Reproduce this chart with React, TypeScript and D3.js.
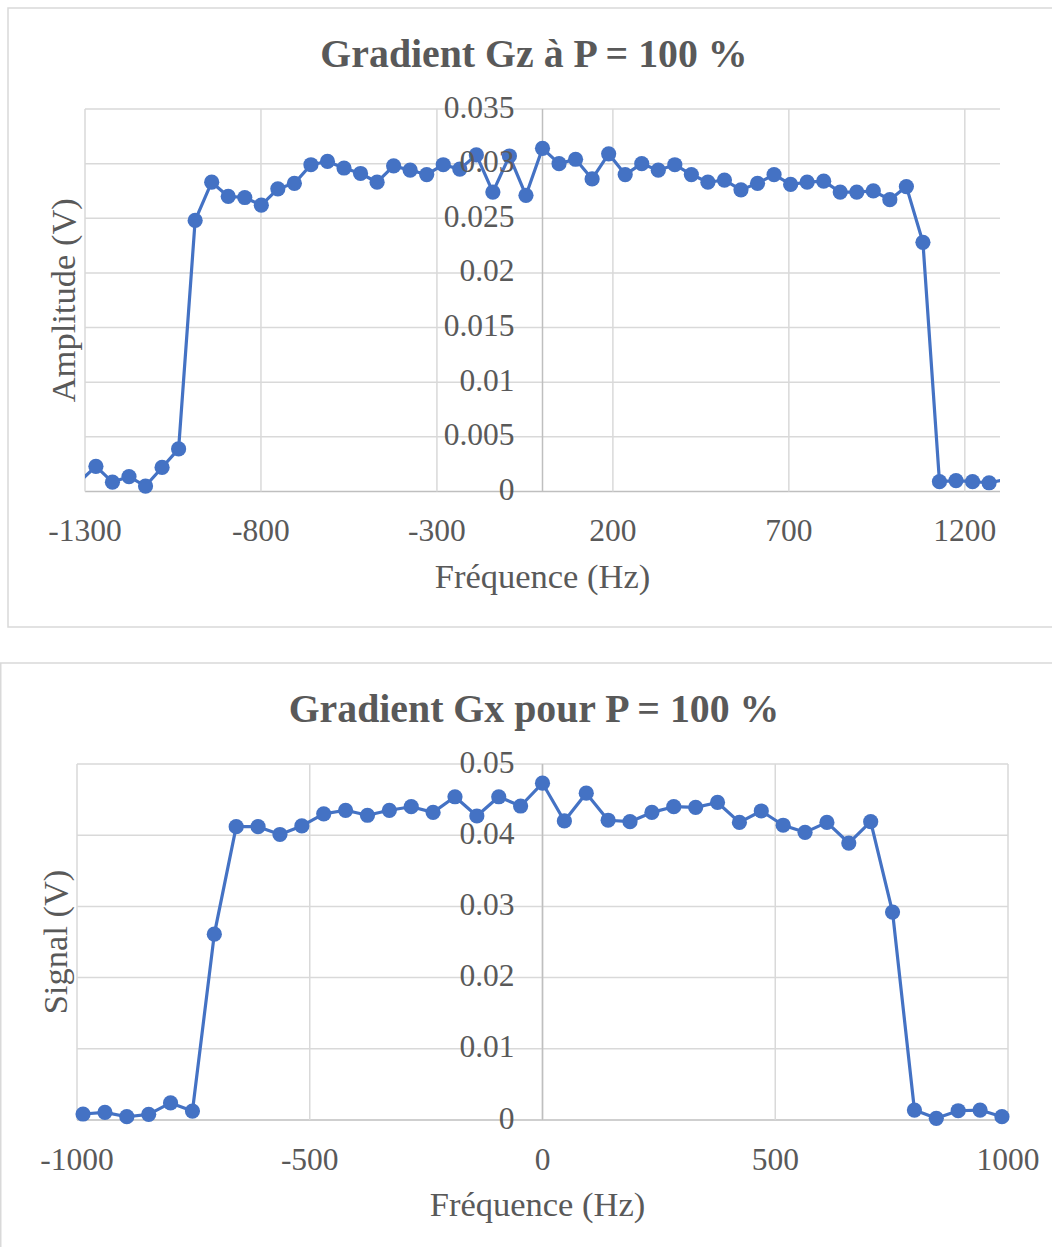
import { useEffect, useRef } from 'react';
import * as d3 from 'd3';

// Gz sweep, P = 100 %
const GZ_FREQ = [
  -1316, -1269, -1222, -1175, -1128, -1081, -1034, -987, -940, -893, -846, -799, -752, -705, -658,
  -611, -564, -517, -470, -423, -376, -329, -282, -235, -188, -141, -94, -47, 0, 47, 94, 141, 188,
  235, 282, 329, 376, 423, 470, 517, 564, 611, 658, 705, 752, 799, 846, 893, 940, 987, 1034, 1081,
  1128, 1175, 1222, 1269, 1316,
];
const GZ_AMP = [
  0.0009, 0.0023, 0.00085, 0.00137, 0.0005, 0.0022, 0.0039, 0.0248, 0.0283, 0.027, 0.0269, 0.0262,
  0.0277, 0.0282, 0.0299, 0.0302, 0.0296, 0.0291, 0.0283, 0.0298, 0.0294, 0.029, 0.0299, 0.0295,
  0.0308, 0.0274, 0.0307, 0.0271, 0.0314, 0.03, 0.0304, 0.0286, 0.0309, 0.029, 0.03, 0.0294, 0.0299,
  0.029, 0.0283, 0.0285, 0.0276, 0.0282, 0.029, 0.0281, 0.0283, 0.0284, 0.0274, 0.0274, 0.0275,
  0.0267, 0.0279, 0.0228, 0.0009, 0.001, 0.0009, 0.0008, 0.0011,
];
const GZ_X_TICKS = [-1300, -800, -300, 200, 700, 1200];
const GZ_Y_TICKS = [0, 0.005, 0.01, 0.015, 0.02, 0.025, 0.03, 0.035];

// Gx sweep, P = 100 %
const GX_FREQ = [
  -987, -940, -893, -846, -799, -752, -705, -658, -611, -564, -517, -470, -423, -376, -329, -282,
  -235, -188, -141, -94, -47, 0, 47, 94, 141, 188, 235, 282, 329, 376, 423, 470, 517, 564, 611, 658,
  705, 752, 799, 846, 893, 940, 987,
];
const GX_SIGNAL = [
  0.00084, 0.00108, 0.00046, 0.0008, 0.0024, 0.00126, 0.0261, 0.0412, 0.0412, 0.0401, 0.0413, 0.043,
  0.0435, 0.0428, 0.0435, 0.044, 0.0432, 0.0454, 0.0427, 0.0454, 0.0441, 0.0473, 0.042, 0.0459,
  0.0421, 0.0419, 0.0432, 0.044, 0.0439, 0.0446, 0.0418, 0.0434, 0.0414, 0.0404, 0.0418, 0.0389,
  0.0419, 0.0292, 0.0014, 0.00024, 0.0013, 0.0014, 0.00046,
];
const GX_X_TICKS = [-1000, -500, 0, 500, 1000];
const GX_Y_TICKS = [0, 0.01, 0.02, 0.03, 0.04, 0.05];

const TEXT = '#595959';
const GRID = '#d9d9d9';
const AXIS = '#bfbfbf';
const BLUE = '#4472c4';
const FONT = '"Liberation Serif", "Times New Roman", serif';

interface ChartCfg {
  id: string;
  title: string;
  yLabel: string;
  freq: number[];
  values: number[];
  xTicks: number[];
  yTicks: number[];
  xDomain: [number, number];
  yDomain: [number, number];
  frame: { x: number; y: number; w: number; h: number };
  plot: { left: number; right: number; top: number; bottom: number };
  yLabelX: number;
  xLabelDx: number;
}

function drawChart(svg: d3.Selection<SVGSVGElement, unknown, null, undefined>, c: ChartCfg) {
  const { plot } = c;
  const x = d3.scaleLinear().domain(c.xDomain).range([plot.left, plot.right]);
  const y = d3.scaleLinear().domain(c.yDomain).range([plot.bottom, plot.top]);
  const g = svg.append('g');

  // frame
  g.append('rect')
    .attr('x', c.frame.x).attr('y', c.frame.y).attr('width', c.frame.w).attr('height', c.frame.h)
    .attr('fill', '#fff').attr('stroke', GRID).attr('stroke-width', 1.5);

  // grid
  c.yTicks.forEach(t => {
    g.append('line')
      .attr('x1', plot.left).attr('x2', plot.right).attr('y1', y(t)).attr('y2', y(t))
      .attr('stroke', t === 0 ? AXIS : GRID).attr('stroke-width', 1.5);
  });
  c.xTicks.forEach(t => {
    g.append('line')
      .attr('x1', x(t)).attr('x2', x(t)).attr('y1', plot.top).attr('y2', plot.bottom)
      .attr('stroke', GRID).attr('stroke-width', 1.5);
  });
  // vertical axis at 0 Hz
  g.append('line')
    .attr('x1', x(0)).attr('x2', x(0)).attr('y1', plot.top).attr('y2', plot.bottom)
    .attr('stroke', AXIS).attr('stroke-width', 1.5);

  // series
  const clipId = `clip-${c.id}`;
  svg.append('defs').append('clipPath').attr('id', clipId)
    .append('rect')
    .attr('x', plot.left).attr('y', plot.top - 30)
    .attr('width', plot.right - plot.left).attr('height', plot.bottom - plot.top + 60);

  const pts = c.freq.map((f, i) => [f, c.values[i]] as [number, number]);
  const line = d3.line<[number, number]>().x(d => x(d[0])).y(d => y(d[1]));
  g.append('path')
    .attr('d', line(pts))
    .attr('fill', 'none').attr('stroke', BLUE).attr('stroke-width', 3.2)
    .attr('stroke-linejoin', 'round')
    .attr('clip-path', `url(#${clipId})`);

  g.selectAll('circle.pt')
    .data(pts.filter(d => d[0] >= c.xDomain[0] && d[0] <= c.xDomain[1]))
    .join('circle')
    .attr('class', 'pt')
    .attr('cx', d => x(d[0])).attr('cy', d => y(d[1]))
    .attr('r', 7.6).attr('fill', BLUE);

  // y tick labels next to the 0 Hz axis
  c.yTicks.forEach(t => {
    g.append('text')
      .attr('x', x(0) - 28).attr('y', y(t) + 8.5)
      .attr('text-anchor', 'end')
      .attr('font-family', FONT).attr('font-size', 31.5).attr('fill', TEXT)
      .text(String(t));
  });

  // x tick labels
  c.xTicks.forEach(t => {
    g.append('text')
      .attr('x', x(t)).attr('y', plot.bottom + 49.5)
      .attr('text-anchor', 'middle')
      .attr('font-family', FONT).attr('font-size', 31.5).attr('fill', TEXT)
      .text(String(t));
  });

  // titles
  g.append('text')
    .attr('x', 534).attr('y', c.frame.y + 58.7)
    .attr('text-anchor', 'middle')
    .attr('font-family', FONT).attr('font-size', 39.8).attr('font-weight', 'bold').attr('fill', TEXT)
    .text(c.title);

  g.append('text')
    .attr('x', (plot.left + plot.right) / 2 + c.xLabelDx).attr('y', plot.bottom + 96)
    .attr('text-anchor', 'middle')
    .attr('font-family', FONT).attr('font-size', 34.5).attr('fill', TEXT)
    .text('Fréquence (Hz)');

  g.append('text')
    .attr('transform', `translate(${c.yLabelX},${(plot.top + plot.bottom) / 2}) rotate(-90)`)
    .attr('text-anchor', 'middle')
    .attr('font-family', FONT).attr('font-size', 34.5).attr('fill', TEXT)
    .text(c.yLabel);
}

export default function App() {
  const svgRef = useRef<SVGSVGElement>(null);
  const width = 1052;
  const height = 1247;

  useEffect(() => {
    if (!svgRef.current) return;
    const svg = d3.select(svgRef.current);
    svg.selectAll('*').remove();

    drawChart(svg, {
      id: 'gz',
      title: 'Gradient Gz à P = 100 %',
      yLabel: 'Amplitude (V)',
      freq: GZ_FREQ,
      values: GZ_AMP,
      xTicks: GZ_X_TICKS,
      yTicks: GZ_Y_TICKS,
      xDomain: [-1300, 1300],
      yDomain: [0, 0.035],
      frame: { x: 8, y: 8, w: 1100, h: 619 },
      plot: { left: 85, right: 1000, top: 109, bottom: 491.5 },
      yLabelX: 75,
      xLabelDx: 0,
    });

    drawChart(svg, {
      id: 'gx',
      title: 'Gradient Gx pour P = 100 %',
      yLabel: 'Signal (V)',
      freq: GX_FREQ,
      values: GX_SIGNAL,
      xTicks: GX_X_TICKS,
      yTicks: GX_Y_TICKS,
      xDomain: [-1000, 1000],
      yDomain: [0, 0.05],
      frame: { x: 0.75, y: 663, w: 1100, h: 700 },
      plot: { left: 77, right: 1008, top: 764, bottom: 1120 },
      yLabelX: 67,
      xLabelDx: -5,
    });
  }, []);

  return (
    <svg
      ref={svgRef}
      width={width}
      height={height}
      style={{ position: 'absolute', left: 0, top: 0, display: 'block', background: '#fff' }}
    />
  );
}
